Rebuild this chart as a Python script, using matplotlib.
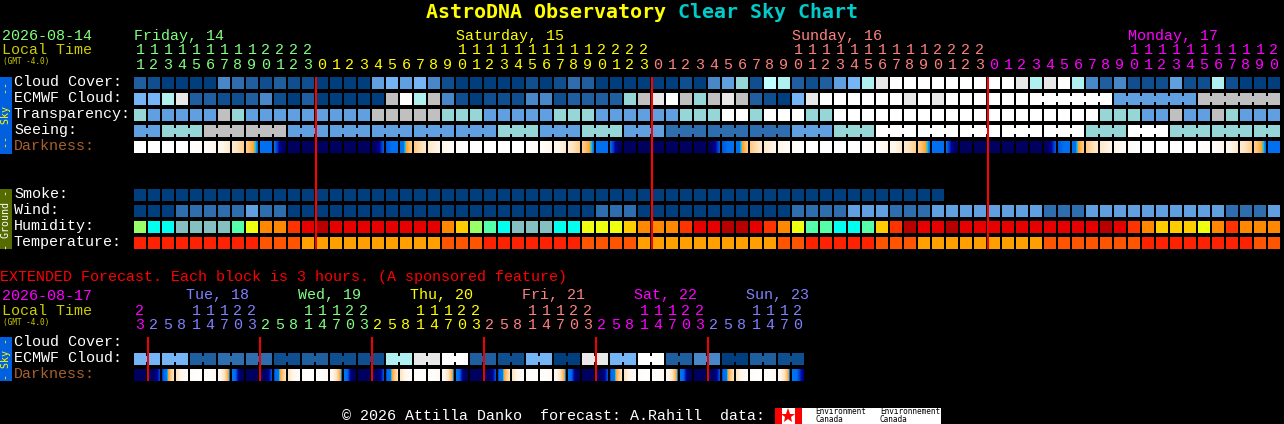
import numpy as np
import matplotlib
matplotlib.use("Agg")
import matplotlib.pyplot as plt
from matplotlib.colors import LinearSegmentedColormap

# ---------- data ----------
CLOUD_COLORS = {'a': '#003E7E', 'b': '#0F4F8F', 'c': '#1F5F9F', 'd': '#2E6EAE', 'e': '#4888C8',
                'f': '#60A0E0', 'g': '#75B5F5', 'h': '#96D6D6', 'i': '#B0F0F0', 'k': '#BFFFFF',
                'j': '#C0C0C0', 'l': '#E8E8E8', 'w': '#FFFFFF'}
HUM_COLORS = {'L': '#99FF66', 'C': '#00FFEE', 'T': '#85C0C0', 'M': '#55FFAA', 'Y': '#EEFF11',
              'G': '#FFCC00', 'O': '#FF8800', 'R': '#FF3300', 'E': '#E60000', 'D': '#B80000'}
TEMP_COLORS = {'R': '#FF2200', 'N': '#FF5500', 'A': '#FFA000'}

cloud_cover = "cbaaaaedcbcbbaaaafgfge" + "baaaaababdcaaaaaabaefhbkicbcfg" + "ilwwwwwwwwwlilwiecebbbfbbibaaa"
ecmwf_cloud = "ggilccbbcebacaaaaajwij" + "ebabbbeebcccchjlwjhjljcbaglwwww"[:30] + "wwwlwlwwwwwwwwwwwwffffffjjjjjj"
ecmwf_joined = [(64, 69), (70, 75), (76, 81)]
transparency = "hfffffjhfffffffffjjjjj" + "hhhfffffhhhffffffhhhwwhwwwhhww" + "wwwwwwwwwwwwwwwwwhhhffjffjhfff"
seeing_groups = [(0, 1), (2, 4), (5, 7), (8, 10), (11, 13), (14, 16), (17, 19), (20, 22), (23, 25),
                 (26, 28), (29, 31), (32, 34), (35, 37), (38, 40), (41, 43), (44, 46), (47, 49),
                 (50, 52), (53, 55), (56, 58), (59, 61), (62, 64), (65, 67), (68, 70), (71, 73),
                 (74, 76), (77, 79), (80, 81)]
seeing_values = ['f', 'h', 'j', 'j', 'f', 'f', 'f', 'f', 'f', 'h', 'f', 'h', 'f', 'd',
                 'd', 'd', 'f', 'h', 'w', 'w', 'w', 'w', 'w', 'h', 'w', 'h', 'h', 'h']
smoke = "a" * 58
wind = ("aaadddddfdd" + "a" * 22 + "ddd" + "a" * 11 + "dddd" + "f" * 3 + "ddd" +
        "f" * 8 + "ddd" + "f" * 10 + "ddd" + "f")
humidity = "LCCTTTTMYOOREDEEEEEEEE" + "OGLMCTTTCCYYYGOOOREEDDEROYMMCC" + "MGRDEEDEEEEEEEEEEDEROGGGYOROOO"
temperature = "RRRRRRRRRNNNAAAAAAAAAA" + "NNNRRRRRRRNNNNAAAAAAAAAANNRRRR" + "RNNNAAAAAAAAANNNNNNNRRRRRRRRNN"
darkness_edges = [0, 0, 0, 0, 0, .06, .16, .27, .35, .46, .52, .70, .74, .76, .76, .76, .74, .70, .54, .50, .36, .28, .20, .08,
                  0, 0, 0, 0, 0, .06, .16, .27, .35, .46, .52, .70, .74, .76, .76, .76, .74, .70, .54, .50, .36, .28, .20, .08,
                  0, 0, 0, 0, 0, .06, .16, .27, .35, .46, .52, .70, .74, .76, .76, .76, .74, .70, .54, .50, .36, .28, .20, .08,
                  0, 0, 0, 0, 0, .06, .16, .27, .35, .46, .52]

ext_ecmwf = list("ggcddbcbbilwcbgalgwceacb")
ext_darkness_edges = [.76, .76, .56, .30, .04, 0, .12, .46, .72, .76, .55, .30, .04, 0, .12, .46,
                      .72, .76, .55, .30, .04, 0, .12, .46, .72, .76, .55, .30, .04, 0, .12, .46,
                      .72, .76, .55, .30, .04, 0, .12, .46, .72, .76, .55, .30, .04, 0, .12, .46, .62]

hours = list(range(11, 24)) + list(range(24)) * 2 + list(range(21))
hour_day = [0] * 13 + [1] * 24 + [2] * 24 + [3] * 21
day_names = ["Friday, 14", "Saturday, 15", "Sunday, 16", "Monday, 17"]
day_colors = ['#80FF80', '#FFFF00', '#FF8080', '#FF00FF']
day_label_cols = [0, 23, 47, 71]

ext_hours = [23] + [2, 5, 8, 11, 14, 17, 20, 23] * 5 + [2, 5, 8, 11, 14, 17, 20]
ext_day = [0] + sum([[k + 1] * 8 for k in range(5)], []) + [6] * 7
ext_colors = ['#FF00FF', '#8080FF', '#80FF80', '#FFFF00', '#FF8080', '#FF00FF', '#8080FF']
ext_names = ["Tue, 18", "Wed, 19", "Thu, 20", "Fri, 21", "Sat, 22", "Sun, 23"]

# ---------- figure ----------
W, H = 1284, 424
fig = plt.figure(figsize=(W / 100, H / 100), dpi=100, facecolor='black')
ax = fig.add_axes([0, 0, 1, 1])
ax.set_facecolor('black')
ax.axis('off')
X0, PITCH, SIZE = 134, 14, 12
MONO = 'Liberation Mono'
DARK = LinearSegmentedColormap.from_list('dark', [
    (0, '#FFFFFF'), (.20, '#FFF6EA'), (.30, '#FFE4C0'), (.38, '#FFC070'), (.425, '#FFA020'),
    (.44, '#00C8F0'), (.46, '#0070F0'), (.52, '#0070F0'), (.56, '#0040C8'), (.60, '#0000A0'),
    (.66, '#000064'), (1, '#000050')])


def txt(x, y, s, color='white', size=10.8, family=MONO, **kw):
    kw.setdefault('ha', 'left')
    kw.setdefault('va', 'baseline')
    if kw['va'] == 'baseline':
        y -= 1
    ax.text(x, y, s, color=color, fontsize=size, family=family, **kw)


def cells(top, values, palette, cols=None):
    cols = range(len(values)) if cols is None else cols
    ax.bar([X0 + PITCH * c for c in cols], SIZE, SIZE, bottom=top, align='edge',
           color=[palette[v] for v in values], linewidth=0)


def joiners(top, start, end, color):
    for c in range(start, end):
        ax.bar(X0 + PITCH * c + SIZE, 6, PITCH - SIZE, bottom=top + 3, align='edge',
               color=color, linewidth=0)


def dark_row(top, edges):
    for c in range(len(edges) - 1):
        ramp = np.linspace(edges[c], edges[c + 1], SIZE).reshape(1, -1)
        x = X0 + PITCH * c
        ax.imshow(ramp, cmap=DARK, vmin=0, vmax=1, extent=(x, x + SIZE, top + SIZE, top),
                  aspect='auto', interpolation='nearest', zorder=1)


# sky rows
cells(77, cloud_cover, CLOUD_COLORS)
cells(93, ecmwf_cloud, CLOUD_COLORS)
for a, b in ecmwf_joined:
    joiners(93, a, b, CLOUD_COLORS[ecmwf_cloud[a]])
cells(109, transparency, CLOUD_COLORS)
for (a, b), v in zip(seeing_groups, seeing_values):
    cells(125, [v] * (b - a + 1), CLOUD_COLORS, range(a, b + 1))
    joiners(125, a, b, CLOUD_COLORS[v])
dark_row(141, darkness_edges)

# ground rows
cells(189, smoke, CLOUD_COLORS)
cells(205, wind, CLOUD_COLORS)
cells(221, humidity, HUM_COLORS)
cells(237, temperature, TEMP_COLORS)

# extended rows
for k, v in enumerate(ext_ecmwf):
    cells(353, [v, v], CLOUD_COLORS, [2 * k, 2 * k + 1])
    joiners(353, 2 * k, 2 * k + 1, CLOUD_COLORS[v])
dark_row(369, ext_darkness_edges)

# midnight lines
for c in (13, 37, 61):
    ax.bar(X0 + PITCH * c - 1, 172, 2, bottom=77, align='edge', color='#FF0000', linewidth=0, zorder=3)
for k in range(6):
    ax.bar(147 + 112 * k, 44, 2, bottom=337, align='edge', color='#F00000', linewidth=0, zorder=3)

# side bars
ax.bar(0, 77, 12, bottom=77, align='edge', color='#0060E0', linewidth=0)
ax.bar(0, 60, 12, bottom=189, align='edge', color='#556B00', linewidth=0)
ax.bar(0, 44, 12, bottom=337, align='edge', color='#0060E0', linewidth=0)
SIDE = 'DejaVu Sans Mono'
txt(6, 115.5, "--  Sky  --", '#FFFF00', 7.2, SIDE, rotation=90, ha='center', va='center')
txt(6, 219.5, "- Ground -", '#FFFFFF', 7.2, SIDE, rotation=90, ha='center', va='center')
txt(6, 359, "- Sky -", '#FFFF00', 7.2, SIDE, rotation=90, ha='center', va='center')

# row labels
for top, s, col in [(77, "Cloud Cover:", 'white'), (93, "ECMWF Cloud:", 'white'),
                    (109, "Transparency:", 'white'), (125, "Seeing:", 'white'),
                    (141, "Darkness:", '#A8602C'), (189, "Smoke:", 'white'), (205, "Wind:", 'white'),
                    (221, "Humidity:", 'white'), (237, "Temperature:", 'white'),
                    (337, "Cloud Cover:", 'white'), (353, "ECMWF Cloud:", 'white'),
                    (369, "Darkness:", '#A8602C')]:
    txt(14, top + 10, s, col)

# header
txt(426, 19, "AstroDNA Observatory", '#FFFF00', 14.4, 'DejaVu Sans Mono', fontweight='bold')
txt(678, 19, "Clear Sky Chart", '#00CCCC', 14.4, 'DejaVu Sans Mono', fontweight='bold')
txt(2, 41, "2026-08-14", '#80FF80')
txt(2, 55, "Local Time", '#CCCC00')
txt(3, 65, "(GMT -4.0)", '#CCCC00', 5.6, SIDE)
for name, col, c in zip(day_names, day_colors, day_label_cols):
    txt(X0 + PITCH * c, 41, name, col)
for c, (h, d) in enumerate(zip(hours, hour_day)):
    cx = X0 + PITCH * c + SIZE / 2
    if h >= 10:
        txt(cx, 55, str(h // 10), day_colors[d], ha='center')
    txt(cx, 70, str(h % 10), day_colors[d], ha='center')

# extended header
txt(0, 281.5, "EXTENDED Forecast. Each block is 3 hours. (A sponsored feature)", '#FF0000')
txt(2, 300.5, "2026-08-17", '#FF00FF')
txt(2, 316, "Local Time", '#CCCC00')
txt(3, 325.5, "(GMT -4.0)", '#CCCC00', 5.6, SIDE)
for k, name in enumerate(ext_names):
    txt(186 + 112 * k, 300.5, name, ext_colors[k + 1])
for c, (h, d) in enumerate(zip(ext_hours, ext_day)):
    cx = X0 + PITCH * c + SIZE / 2
    if h >= 10:
        txt(cx, 316, str(h // 10), ext_colors[d], ha='center')
    txt(cx, 330, str(h % 10), ext_colors[d], ha='center')

# footer
txt(342, 421.5, "\u00a9 2026 Attilla Danko  forecast: A.Rahill  data:")
ax.bar(775, 16, 166, bottom=408, align='edge', color='white', linewidth=0)
ax.bar([775, 795], 16, 7, bottom=408, align='edge', color='#FF0000', linewidth=0)
ax.plot([788], [416], marker='*', ms=11, color='#FF0000', mew=0)
txt(815, 415, "Environment", 'black', 5.6, SIDE)
txt(815, 423, "Canada", 'black', 5.6, SIDE)
txt(880, 415, "Environnement", 'black', 5.6, SIDE)
txt(880, 423, "Canada", 'black', 5.6, SIDE)

ax.set_xlim(0, W)
ax.set_ylim(H, 0)
fig.savefig('out.png', dpi=100, facecolor='black')
